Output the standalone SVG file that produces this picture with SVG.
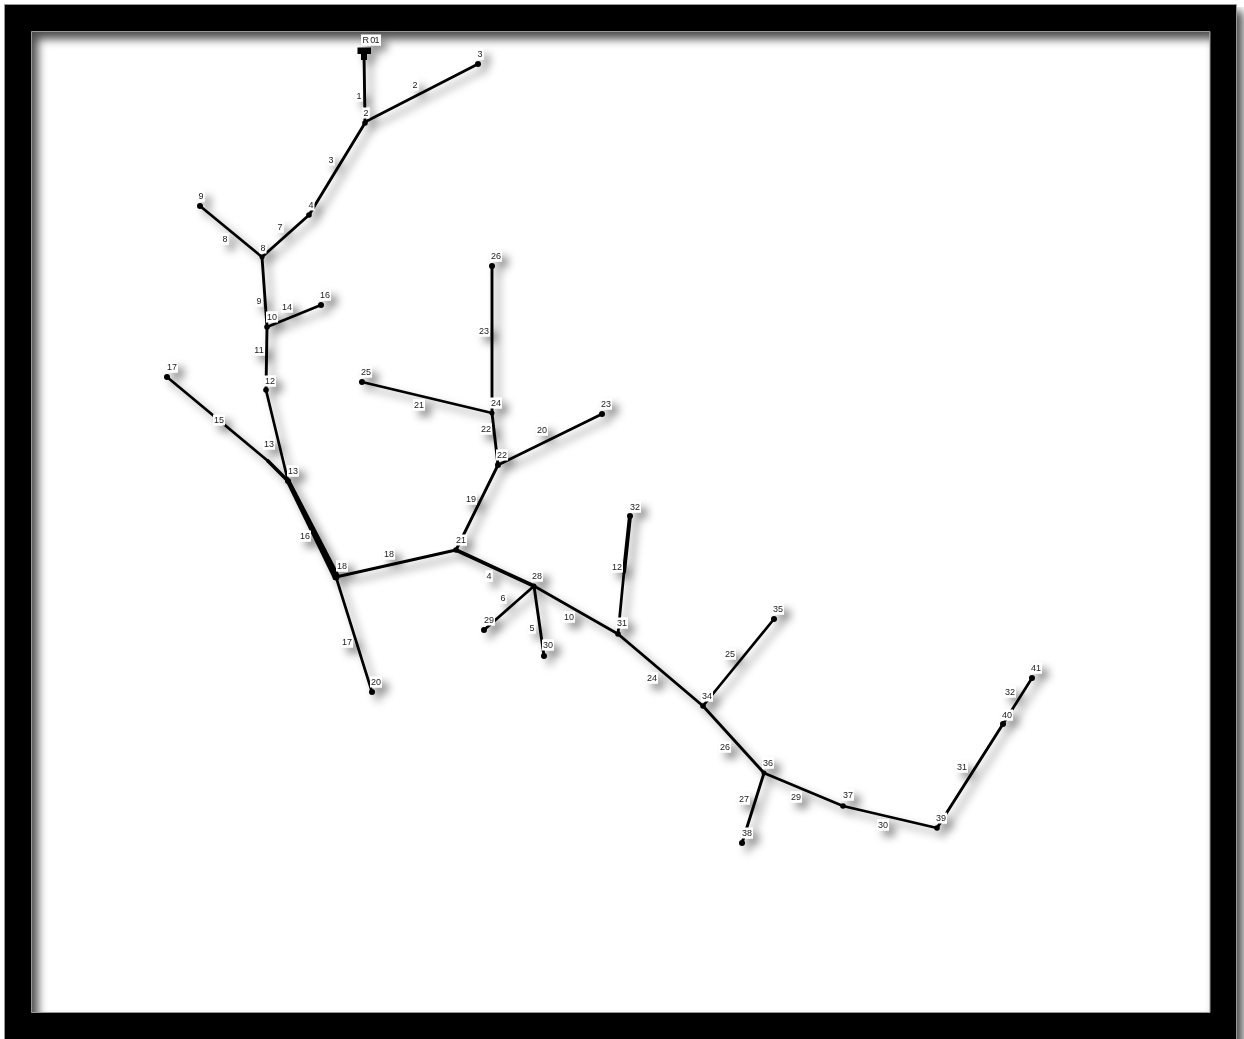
<svg xmlns="http://www.w3.org/2000/svg" width="1244" height="1039" viewBox="0 0 1244 1039">
<style>
text{font-family:"Liberation Sans",Arial,sans-serif;font-size:9px;fill:#222;text-anchor:middle}
.b{fill:#fff}
line{stroke:#000;stroke-width:2.7;stroke-linecap:round}
.t{stroke-width:2.9}
.h{stroke-width:3.6}
circle{fill:#000}
</style>
<defs>
<filter id="frameShadow" filterUnits="userSpaceOnUse" x="0" y="0" width="1244" height="1039">
<feGaussianBlur in="SourceAlpha" stdDeviation="5"/><feOffset dx="6" dy="7" result="s"/>
<feFlood flood-color="#000" flood-opacity="0.7"/><feComposite in2="s" operator="in"/>
<feMerge><feMergeNode/><feMergeNode in="SourceGraphic"/></feMerge>
</filter>
<filter id="shadow" filterUnits="userSpaceOnUse" x="0" y="0" width="1244" height="1039">
<feGaussianBlur in="SourceAlpha" stdDeviation="4"/><feOffset dx="6" dy="6" result="s"/>
<feFlood flood-color="#000" flood-opacity="0.45"/><feComposite in2="s" operator="in" result="c"/>
<feGaussianBlur in="SourceGraphic" stdDeviation="0.42" result="g"/>
<feMerge><feMergeNode in="c"/><feMergeNode in="g"/></feMerge>
</filter>
</defs>
<rect width="1244" height="1039" fill="#fff"/>
<path id="frame" filter="url(#frameShadow)" fill="#000" fill-rule="evenodd" stroke="#999" stroke-width="1" d="M4.500 4.500H1236.500V1050H4.500ZM31.500 31.500V1012.500H1210V31.500Z"/>
<g filter="url(#shadow)">
<g id="connectors">
<line class="t" x1="364" y1="52" x2="365" y2="122"/>
<line x1="365" y1="122" x2="478" y2="64"/>
<line class="t" x1="365" y1="123" x2="309" y2="215"/>
<line class="t" x1="309" y1="215" x2="262" y2="257"/>
<line x1="262" y1="257" x2="200" y2="206"/>
<line class="t" x1="262" y1="257" x2="267" y2="327"/>
<line x1="267" y1="327" x2="321" y2="305"/>
<line class="t" x1="267" y1="327" x2="266" y2="390"/>
<line x1="266" y1="390" x2="288" y2="481"/>
<line x1="167" y1="377" x2="268" y2="461"/>
<line class="h" x1="268" y1="461" x2="288" y2="481"/>
<polygon points="286,482 290,479.500 339.500,575 333,578.500" fill="#000"/>
<line class="t" x1="336" y1="577" x2="456" y2="550"/>
<line x1="336" y1="577" x2="372" y2="692"/>
<line class="t" x1="456" y1="550" x2="498" y2="465"/>
<line x1="498" y1="465" x2="602" y2="414"/>
<line class="t" x1="498" y1="465" x2="492" y2="413"/>
<line class="t" x1="492" y1="413" x2="492" y2="266"/>
<line x1="492" y1="413" x2="362" y2="382"/>
<line class="h" x1="456" y1="550" x2="534" y2="586"/>
<line x1="534" y1="586" x2="484" y2="630"/>
<line class="t" x1="534" y1="586" x2="544" y2="656"/>
<line x1="534" y1="586" x2="618" y2="634"/>
<line x1="618" y1="634" x2="624" y2="572"/>
<line class="h" style="stroke-width:4" x1="624" y1="572" x2="630" y2="516"/>
<line class="t" x1="618" y1="634" x2="703" y2="706"/>
<line x1="703" y1="706" x2="774" y2="619"/>
<line class="t" x1="703" y1="706" x2="764" y2="773"/>
<line class="t" x1="764" y1="773" x2="742" y2="843"/>
<line x1="764" y1="773" x2="843" y2="806"/>
<line x1="843" y1="806" x2="937" y2="828"/>
<line class="t" x1="937" y1="828" x2="1003" y2="724"/>
<line x1="1003" y1="724" x2="1032" y2="678"/>
<g id="link-labels">
<rect class="b" x="355.500" y="90.500" width="7" height="11"/><text x="359" y="99.200">1</text>
<rect class="b" x="411.500" y="79.500" width="7" height="11"/><text x="415" y="88.200">2</text>
<rect class="b" x="327.500" y="154.500" width="7" height="11"/><text x="331" y="163.200">3</text>
<rect class="b" x="276.500" y="221.500" width="7" height="11"/><text x="280" y="230.200">7</text>
<rect class="b" x="221.500" y="233.500" width="7" height="11"/><text x="225" y="242.200">8</text>
<rect class="b" x="255.500" y="295.500" width="7" height="11"/><text x="259" y="304.200">9</text>
<rect class="b" x="281" y="301.500" width="12" height="11"/><text x="287" y="310.200">14</text>
<rect class="b" x="253" y="344.500" width="12" height="11"/><text x="259" y="353.200">11</text>
<rect class="b" x="263" y="438.500" width="12" height="11"/><text x="269" y="447.200">13</text>
<rect class="b" x="213" y="414.500" width="12" height="11"/><text x="219" y="423.200">15</text>
<rect class="b" x="299" y="530.500" width="12" height="11"/><text x="305" y="539.200">16</text>
<rect class="b" x="383" y="548.500" width="12" height="11"/><text x="389" y="557.200">18</text>
<rect class="b" x="341" y="636.500" width="12" height="11"/><text x="347" y="645.200">17</text>
<rect class="b" x="465" y="493.500" width="12" height="11"/><text x="471" y="502.200">19</text>
<rect class="b" x="478" y="325.500" width="12" height="11"/><text x="484" y="334.200">23</text>
<rect class="b" x="413" y="399.500" width="12" height="11"/><text x="419" y="408.200">21</text>
<rect class="b" x="480" y="423.500" width="12" height="11"/><text x="486" y="432.200">22</text>
<rect class="b" x="536" y="424.500" width="12" height="11"/><text x="542" y="433.200">20</text>
<rect class="b" x="485.500" y="570.500" width="7" height="11"/><text x="489" y="579.200">4</text>
<rect class="b" x="499.500" y="592.500" width="7" height="11"/><text x="503" y="601.200">6</text>
<rect class="b" x="528.500" y="622.500" width="7" height="11"/><text x="532" y="631.200">5</text>
<rect class="b" x="563" y="611.500" width="12" height="11"/><text x="569" y="620.200">10</text>
<rect class="b" x="611" y="561.500" width="12" height="11"/><text x="617" y="570.200">12</text>
<rect class="b" x="646" y="672.500" width="12" height="11"/><text x="652" y="681.200">24</text>
<rect class="b" x="724" y="648.500" width="12" height="11"/><text x="730" y="657.200">25</text>
<rect class="b" x="719" y="741.500" width="12" height="11"/><text x="725" y="750.200">26</text>
<rect class="b" x="738" y="793.500" width="12" height="11"/><text x="744" y="802.200">27</text>
<rect class="b" x="790" y="791.500" width="12" height="11"/><text x="796" y="800.200">29</text>
<rect class="b" x="877" y="819.500" width="12" height="11"/><text x="883" y="828.200">30</text>
<rect class="b" x="956" y="761.500" width="12" height="11"/><text x="962" y="770.200">31</text>
<rect class="b" x="1004" y="686.500" width="12" height="11"/><text x="1010" y="695.200">32</text>
</g>
</g>
<g id="nR01"><rect x="357.500" y="47.500" width="13.500" height="6.500" fill="#000"/><rect x="361" y="53" width="6" height="7" fill="#000"/><rect class="b" x="361" y="34.500" width="20" height="11"/><text x="371" y="43.200" textLength="17">R 01</text></g>
<g id="n2"><circle cx="365" cy="123" r="2.800"/><rect class="b" x="362.500" y="107.500" width="7" height="11"/><text x="366" y="116.200">2</text></g>
<g id="n3"><circle cx="478" cy="64" r="3"/><rect class="b" x="476.500" y="48.500" width="7" height="11"/><text x="480" y="57.200">3</text></g>
<g id="n4"><circle cx="309" cy="215" r="2.800"/><rect class="b" x="307.500" y="199.500" width="7" height="11"/><text x="311" y="208.200">4</text></g>
<g id="n8"><circle cx="262" cy="257" r="2.500"/><rect class="b" x="259.500" y="242.500" width="7" height="11"/><text x="263" y="251.200">8</text></g>
<g id="n9"><circle cx="200" cy="206" r="3"/><rect class="b" x="197.500" y="190.500" width="7" height="11"/><text x="201" y="199.200">9</text></g>
<g id="n10"><circle cx="267" cy="327" r="2.800"/><rect class="b" x="266" y="311.500" width="12" height="11"/><text x="272" y="320.200">10</text></g>
<g id="n16"><circle cx="321" cy="305" r="3"/><rect class="b" x="319" y="289.500" width="12" height="11"/><text x="325" y="298.200">16</text></g>
<g id="n12"><circle cx="266" cy="390" r="2.800"/><rect class="b" x="264" y="375.500" width="12" height="11"/><text x="270" y="384.200">12</text></g>
<g id="n13"><circle cx="288" cy="481" r="3"/><rect class="b" x="287" y="465.500" width="12" height="11"/><text x="293" y="474.200">13</text></g>
<g id="n17"><circle cx="167" cy="377" r="3"/><rect class="b" x="166" y="361.500" width="12" height="11"/><text x="172" y="370.200">17</text></g>
<g id="n18"><circle cx="336" cy="577" r="3.500"/><rect class="b" x="336" y="560.500" width="12" height="11"/><text x="342" y="569.200">18</text></g>
<g id="n20"><circle cx="372" cy="692" r="3"/><rect class="b" x="370" y="676.500" width="12" height="11"/><text x="376" y="685.200">20</text></g>
<g id="n21"><circle cx="456" cy="550" r="2.800"/><rect class="b" x="455" y="534.500" width="12" height="11"/><text x="461" y="543.200">21</text></g>
<g id="n22"><circle cx="498" cy="465" r="3"/><rect class="b" x="496" y="449.500" width="12" height="11"/><text x="502" y="458.200">22</text></g>
<g id="n23"><circle cx="602" cy="414" r="3"/><rect class="b" x="600" y="398.500" width="12" height="11"/><text x="606" y="407.200">23</text></g>
<g id="n24"><circle cx="492" cy="413" r="2.500"/><rect class="b" x="490" y="397.500" width="12" height="11"/><text x="496" y="406.200">24</text></g>
<g id="n25"><circle cx="362" cy="382" r="3"/><rect class="b" x="360" y="366.500" width="12" height="11"/><text x="366" y="375.200">25</text></g>
<g id="n26"><circle cx="492" cy="266" r="3"/><rect class="b" x="490" y="250.500" width="12" height="11"/><text x="496" y="259.200">26</text></g>
<g id="n28"><circle cx="534" cy="586" r="2.500"/><rect class="b" x="531" y="570.500" width="12" height="11"/><text x="537" y="579.200">28</text></g>
<g id="n29"><circle cx="484" cy="630" r="3"/><rect class="b" x="483" y="614.500" width="12" height="11"/><text x="489" y="623.200">29</text></g>
<g id="n30"><circle cx="544" cy="656" r="3"/><rect class="b" x="542" y="639.500" width="12" height="11"/><text x="548" y="648.200">30</text></g>
<g id="n31"><circle cx="618" cy="634" r="2.800"/><rect class="b" x="616" y="617.500" width="12" height="11"/><text x="622" y="626.200">31</text></g>
<g id="n32"><circle cx="630" cy="516" r="3"/><rect class="b" x="629" y="501.500" width="12" height="11"/><text x="635" y="510.200">32</text></g>
<g id="n34"><circle cx="703" cy="706" r="2.800"/><rect class="b" x="701" y="690.500" width="12" height="11"/><text x="707" y="699.200">34</text></g>
<g id="n35"><circle cx="774" cy="619" r="3"/><rect class="b" x="772" y="603.500" width="12" height="11"/><text x="778" y="612.200">35</text></g>
<g id="n36"><circle cx="764" cy="773" r="2.500"/><rect class="b" x="762" y="757.500" width="12" height="11"/><text x="768" y="766.200">36</text></g>
<g id="n37"><circle cx="843" cy="806" r="2.800"/><rect class="b" x="842" y="789.500" width="12" height="11"/><text x="848" y="798.200">37</text></g>
<g id="n38"><circle cx="742" cy="843" r="3"/><rect class="b" x="741" y="827.500" width="12" height="11"/><text x="747" y="836.200">38</text></g>
<g id="n39"><circle cx="937" cy="828" r="2.800"/><rect class="b" x="935" y="812.500" width="12" height="11"/><text x="941" y="821.200">39</text></g>
<g id="n40"><circle cx="1003" cy="724" r="3"/><rect class="b" x="1001" y="709.500" width="12" height="11"/><text x="1007" y="718.200">40</text></g>
<g id="n41"><circle cx="1032" cy="678" r="3"/><rect class="b" x="1030" y="662.500" width="12" height="11"/><text x="1036" y="671.200">41</text></g>
</g>
</svg>
